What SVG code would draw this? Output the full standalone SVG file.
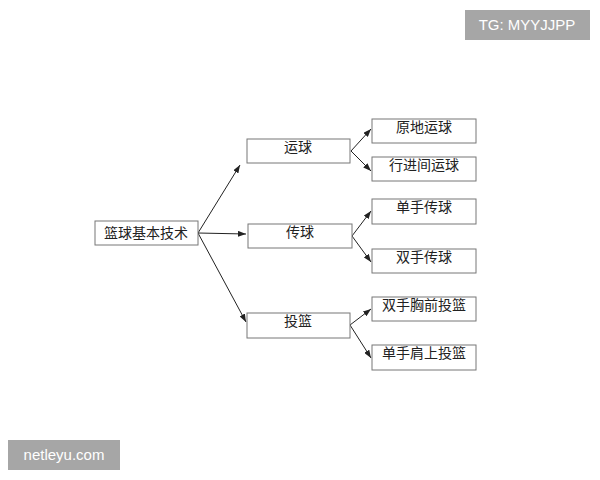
<svg xmlns="http://www.w3.org/2000/svg" width="600" height="480" viewBox="0 0 600 480">
<style>
.b{fill:#fff;stroke:#777;stroke-width:1}
.t{font-family:"Liberation Serif","Noto Sans CJK SC",serif;font-size:14px;fill:#222;text-anchor:middle}
.c{stroke:#222;stroke-width:1;fill:none;marker-end:url(#a)}
.w{font-family:"Liberation Sans",sans-serif;font-size:15px;fill:#fff;text-anchor:middle}
</style>
<defs><marker id="a" viewBox="0 0 8 6" refX="8" refY="3" markerWidth="8" markerHeight="6" orient="auto" markerUnits="userSpaceOnUse"><path d="M0,0L8,3L0,6z" fill="#222"/></marker></defs>
<rect width="600" height="480" fill="#fff"/>
<g id="connectors">
<path class="c" d="M198,233L240,165"/>
<path class="c" d="M198,233L246,234"/>
<path class="c" d="M198,233L246,322"/>
<path class="c" d="M351,151L371,129"/>
<path class="c" d="M351,151L371,171"/>
<path class="c" d="M352,236L371,211"/>
<path class="c" d="M352,236L371,262"/>
<path class="c" d="M350,325L371,309"/>
<path class="c" d="M350,325L371,358"/>
</g>
<g id="root"><rect class="b" x="95" y="221" width="103" height="24"/><text class="t" x="146" y="238">篮球基本技术</text></g>
<g id="n1"><rect class="b" x="247" y="139" width="103" height="24"/><text class="t" x="298" y="152">运球</text></g>
<g id="n2"><rect class="b" x="248" y="224" width="104" height="24"/><text class="t" x="300" y="237">传球</text></g>
<g id="n3"><rect class="b" x="247" y="313" width="103" height="25"/><text class="t" x="298" y="326">投篮</text></g>
<g id="l1"><rect class="b" x="372" y="119" width="104" height="24"/><text class="t" x="424" y="132">原地运球</text></g>
<g id="l2"><rect class="b" x="372" y="157" width="104" height="24"/><text class="t" x="424" y="170">行进间运球</text></g>
<g id="l3"><rect class="b" x="372" y="199" width="104" height="25"/><text class="t" x="424" y="212">单手传球</text></g>
<g id="l4"><rect class="b" x="372" y="249" width="104" height="24"/><text class="t" x="424" y="262">双手传球</text></g>
<g id="l5"><rect class="b" x="372" y="297" width="104" height="24"/><text class="t" x="424" y="310">双手胸前投篮</text></g>
<g id="l6"><rect class="b" x="372" y="345" width="104" height="25"/><text class="t" x="424" y="358">单手肩上投篮</text></g>
<g id="wm1"><rect x="465" y="10" width="125" height="30" fill="#a6a6a6"/><text class="w" x="527" y="30">TG: MYYJJPP</text></g>
<g id="wm2"><rect x="8" y="440" width="112" height="30" fill="#a6a6a6"/><text class="w" x="64" y="460">netleyu.com</text></g>
</svg>
